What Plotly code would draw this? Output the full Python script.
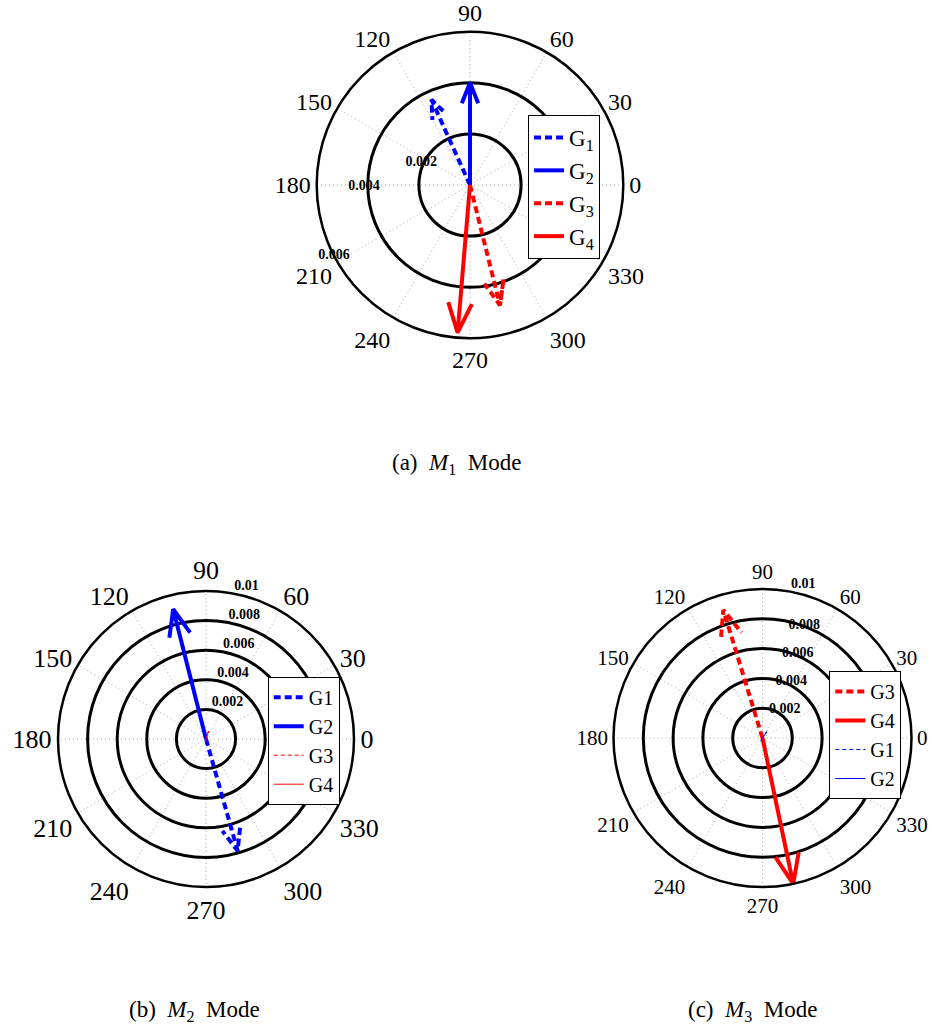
import numpy as np
import plotly.graph_objects as go

# ---------------- data ----------------
series_names = ["G1", "G2", "G3", "G4"]
# (a) M1 mode: magnitudes and angles (deg)
m1_mag = [0.00366, 0.0040, 0.00485, 0.0058]
m1_ang = [114.3, 90.0, 284.0, 265.2]
# (b) M2 mode
m2_mag = [0.00785, 0.00904, 0.0002, 0.00055]
m2_ang = [285.8, 104.2, 260.0, 72.0]
# (c) M3 mode
m3_mag = [0.0002, 0.0005, 0.00899, 0.0100]
m3_ang = [235.0, 55.0, 107.0, 281.9]

angle_ticks = list(range(0, 360, 30))
m1_rticks = [0.002, 0.004, 0.006]
m23_rticks = [0.002, 0.004, 0.006, 0.008, 0.01]
captions = ["(a)&nbsp;&nbsp;<i>M</i><sub>1</sub>&nbsp;&nbsp;Mode",
            "(b)&nbsp;&nbsp;<i>M</i><sub>2</sub>&nbsp;&nbsp;Mode",
            "(c)&nbsp;&nbsp;<i>M</i><sub>3</sub>&nbsp;&nbsp;Mode"]

# ---------------- style / layout ----------------
W, H = 932, 1026
SERIF = "Liberation Serif, Times New Roman, serif"
BLUE, RED = "#0000FF", "#FF0000"


def arrow(mag, ang):
    """MATLAB compass-style arrow: 0 -> tip -> barb -> tip -> barb."""
    z = mag * np.exp(1j * np.deg2rad(ang))
    shape = np.array([0, 1, 0.8 + 0.08j, 1, 0.8 - 0.08j])
    pts = shape * z
    return np.abs(pts), np.rad2deg(np.angle(pts))


def domain(cx, cy, R):
    return dict(x=[(cx - R) / W, (cx + R) / W],
                y=[1 - (cy + R) / H, 1 - (cy - R) / H])


fig = go.Figure()

panels = [
    dict(key="polar", legend="legend", mag=m1_mag, ang=m1_ang, rticks=m1_rticks,
         center=(470, 185), R=153.3, tfs=24,
         order=[0, 1, 2, 3],
         names=["G<sub>1</sub>", "G<sub>2</sub>", "G<sub>3</sub>", "G<sub>4</sub>"],
         widths=[4, 4, 4, 4]),
    dict(key="polar2", legend="legend2", mag=m2_mag, ang=m2_ang, rticks=m23_rticks,
         center=(206, 739), R=148, tfs=26,
         order=[0, 1, 2, 3], names=series_names,
         widths=[4, 4, 1, 1]),
    dict(key="polar3", legend="legend3", mag=m3_mag, ang=m3_ang, rticks=m23_rticks,
         center=(762.5, 738), R=149, tfs=21,
         order=[2, 3, 0, 1], names=series_names,
         widths=[1, 1, 4, 4]),
]
colors = [BLUE, BLUE, RED, RED]
dashes = ["7px,4px", "solid", "7px,4px", "solid"]

for p in panels:
    for i in p["order"]:
        r, th = arrow(p["mag"][i], p["ang"][i])
        w = p["widths"][i]
        dash = dashes[i]
        if dash != "solid" and w < 2:
            dash = "4px,3px"
        fig.add_trace(go.Scatterpolar(
            r=r, theta=th, mode="lines", name=p["names"][i],
            line=dict(color=colors[i], width=w, dash=dash),
            subplot=p["key"], legend=p["legend"], hoverinfo="skip"))

# radial tick labels
lab_font = dict(family=SERIF, size=14, color="black", weight="bold")
fig.add_trace(go.Scatterpolar(
    r=[0.0021, 0.00415, 0.0060], theta=[155, 181, 207.5], mode="text",
    text=[f"{t:g}" for t in m1_rticks], textposition="middle center",
    textfont=lab_font, subplot="polar", showlegend=False, hoverinfo="skip"))
fig.add_trace(go.Scatterpolar(
    r=m23_rticks, theta=[79] * len(m23_rticks), mode="text",
    text=[f"{t:g}" for t in m23_rticks], textposition="top right",
    textfont=lab_font, subplot="polar2", showlegend=False, hoverinfo="skip"))
fig.add_trace(go.Scatterpolar(
    r=[t * 0.97 for t in m23_rticks[:-1]], theta=[77] * 4, mode="text",
    text=[f"{t:g}" for t in m23_rticks[:-1]], textposition="middle right",
    textfont=lab_font, subplot="polar3", showlegend=False, hoverinfo="skip"))
fig.add_trace(go.Scatterpolar(
    r=m23_rticks[-1:], theta=[79], mode="text",
    text=[f"{t:g}" for t in m23_rticks[-1:]], textposition="top right",
    textfont=lab_font, subplot="polar3", showlegend=False, hoverinfo="skip"))

layout = dict(width=W, height=H, margin=dict(l=0, r=0, t=0, b=0),
              paper_bgcolor="white", plot_bgcolor="white", showlegend=True)

for p in panels:
    cx, cy = p["center"]
    layout[p["key"]] = dict(
        domain=domain(cx, cy, p["R"]),
        bgcolor="white",
        radialaxis=dict(range=[0, p["rticks"][-1]], tickmode="array",
                        tickvals=p["rticks"], showticklabels=False, ticks="",
                        showline=False, gridcolor="black", gridwidth=2.5),
        angularaxis=dict(tickmode="array", tickvals=angle_ticks,
                         ticktext=[str(a) for a in angle_ticks],
                         rotation=0, direction="counterclockwise",
                         showgrid=True, gridcolor="#a8a8a8", gridwidth=1,
                         griddash="1px,3px", showline=True, linecolor="black",
                         linewidth=2.5, ticks="",
                         tickfont=dict(family=SERIF, size=p["tfs"], color="black")),
    )

leg_common = dict(bgcolor="white", bordercolor="black", borderwidth=1,
                  xanchor="left", yanchor="top", itemwidth=30,
                  tracegroupgap=0)
layout["legend"] = dict(leg_common, x=528 / W, y=1 - 115 / H,
                        font=dict(family=SERIF, size=23, color="black"))
layout["legend2"] = dict(leg_common, x=267.7 / W, y=1 - 676.7 / H,
                         font=dict(family=SERIF, size=20, color="black"))
layout["legend3"] = dict(leg_common, x=829.3 / W, y=1 - 671 / H,
                         font=dict(family=SERIF, size=20, color="black"))

cap_pos = [(456, 464), (194, 1011), (752, 1011)]
layout["annotations"] = [
    dict(text=c, x=x / W, y=1 - y / H, xref="paper", yref="paper",
         xanchor="center", yanchor="middle", showarrow=False,
         font=dict(family=SERIF, size=23, color="black"))
    for c, (x, y) in zip(captions, cap_pos)
]

fig.update_layout(**layout)
fig.write_html("out.html")
